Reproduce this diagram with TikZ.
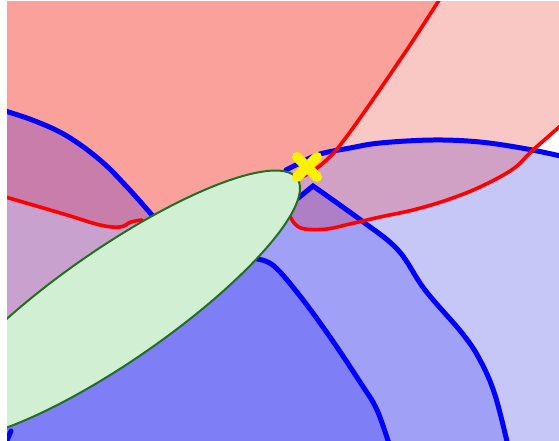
\documentclass[tikz,border=0pt]{standalone}
\usepackage{tikz}
\usetikzlibrary{positioning}
\usepackage{xcolor}

\definecolor{pinkdeep}{HTML}{F9A19A}
\definecolor{pinkpale}{HTML}{F9C7C4}
\definecolor{blueplain}{HTML}{C6C6F7}
\definecolor{bluemid}{HTML}{A0A0F7}
\definecolor{bluedeep}{HTML}{7E7EF7}
\definecolor{mauvedeep}{HTML}{C87DAA}
\definecolor{mauvepale}{HTML}{C8A1CE}
\definecolor{mauveright}{HTML}{D1A1C5}
\definecolor{mauvetri}{HTML}{AF7FC5}
\definecolor{leaf}{HTML}{D1EFD3}
\definecolor{leafedge}{HTML}{226E22}

% boundary curves, in pixel coordinates (y downwards)
\newcommand{\curveBone}{plot[smooth,tension=0.6] coordinates {(2,110) (35,121) (67,136) (100,160) (128,188) (158,222)}}
\newcommand{\curveBtwo}{plot[smooth,tension=0.6] coordinates {(286,170) (300,163) (320,154) (350,148) (380,143) (433,140) (480,142) (527,149) (565,157)}}
\newcommand{\curveBthree}{(297,199) -- plot[smooth,tension=0.6] coordinates {(313,186) (362,221) (398,250) (425,290) (462,333) (480,360) (495,395) (509,450)}}
\newcommand{\curveBfour}{plot[smooth,tension=0.6] coordinates {(257,259) (274,266) (300,296) (330,337) (360,382) (377,410) (391,450)}}
\newcommand{\curveRone}{plot[smooth,tension=0.6] coordinates {(304,176) (337,149) (400,60) (441,-3)}}
\newcommand{\curveRtwo}{plot[smooth,tension=0.6] coordinates {(565,122) (533,150) (513,169) (480,187) (447,200) (413,210) (380,217) (350,224) (327,229) (305,229) (295,224) (287,211)}}
\newcommand{\curveRthree}{plot[smooth,tension=0.6] coordinates {(142,220) (131,222) (120,227) (100,225) (67,215) (33,205) (2,196)}}

\begin{document}
\begin{tikzpicture}[x=1pt,y=-1pt,
  bluecurve/.style={draw=blue,line width=5pt,line cap=round},
  redcurve/.style={draw=red,line width=3.6pt,line cap=round}]
\useasboundingbox (0,0) rectangle (559,441);
\fill[white] (0,0) rectangle (559,441);
\begin{scope}
\clip (7,2) rectangle (559,441);
% blue bands
\fill[blueplain] (7,2) rectangle (559,441);
\fill[bluemid] \curveBthree -- (2,450) -- (2,190) -- cycle;
\fill[bluedeep] \curveBfour -- (2,450) -- (2,330) -- cycle;
% red band over the blue ones
\fill[mauveright] \curveRtwo -- (284,160) -- (284,-5) -- (565,-5) -- cycle;
\begin{scope}
  \clip \curveBthree -- (2,450) -- (2,190) -- cycle;
  \fill[mauvetri] \curveRtwo -- (284,160) -- (284,-5) -- (565,-5) -- cycle;
\end{scope}
\fill[white] \curveBtwo -- (565,-5) -- (284,-5) -- cycle;
\begin{scope}
  \clip \curveBtwo -- (565,-5) -- (284,-5) -- cycle;
  \fill[pinkpale] \curveRtwo -- (284,160) -- (284,-5) -- (565,-5) -- cycle;
\end{scope}
\fill[pinkdeep] \curveBone -- (265,185) -- (292,172)
  -- plot[smooth,tension=0.6] coordinates {(304,176) (337,149) (400,60) (441,-3)} -- (2,-5) -- cycle;
% left pieces
\fill[mauvedeep] \curveBone
  -- plot[smooth,tension=0.6] coordinates {(142,220) (131,222) (120,227) (100,225) (67,215) (33,205) (2,196)} -- cycle;
\fill[mauvepale] \curveRthree -- (2,335) -- (100,262) -- cycle;
% boundaries
\draw[bluecurve] \curveBone;
\draw[bluecurve] \curveBtwo;
\draw[bluecurve] \curveBthree;
\draw[bluecurve] \curveBfour;
\draw[bluecurve] (11,431) -- (5,445);
\draw[redcurve] \curveRone;
\draw[redcurve] \curveRtwo;
\draw[redcurve] \curveRthree;
% the leaf
\filldraw[fill=leaf,draw=leafedge,line width=2pt]
  plot[domain=0:360,samples=150] ({115+185*cos(\x)},{305-116.6*cos(\x)+67*sin(\x)}) -- cycle;
% marker
\draw[yellow,line width=10pt,line cap=round] (297,157) -- (317,177) (297,177) -- (317,157);
\end{scope}
\end{tikzpicture}
\end{document}
